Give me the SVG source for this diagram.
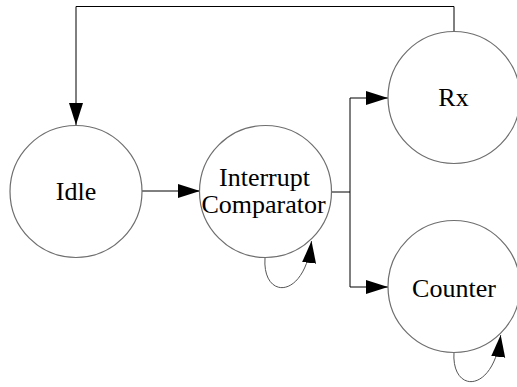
<svg xmlns="http://www.w3.org/2000/svg" width="517" height="387" viewBox="0 0 517 387">
<style>
.node{fill:#fff;stroke:#6e6e6e;stroke-width:1.2}
.lbl{font-family:"Liberation Serif","Times New Roman",serif;font-size:26px;fill:#000;text-anchor:middle}
.edge{fill:none;stroke:#000;stroke-width:1}
.loop{fill:none;stroke:#555;stroke-width:1}
</style>
<defs>
<marker id="arr" markerUnits="userSpaceOnUse" markerWidth="23" markerHeight="15" refX="22" refY="7" orient="auto">
<path d="M0,0 L22,7 L0,14 z" fill="#000"/>
</marker>
</defs>
<rect width="517" height="387" fill="#fff"/>
<g id="connectors">
<path class="edge" d="M454,32 V6.5 H76 V125" marker-end="url(#arr)"/>
<path class="edge" d="M142,191 H200" marker-end="url(#arr)"/>
<path class="edge" d="M331,192 H350"/>
<path class="edge" d="M350,287 V98 H388" marker-end="url(#arr)"/>
<path class="edge" d="M350,287 H388" marker-end="url(#arr)"/>
<path class="loop" d="M265,258 C262,300 305,300 311.5,241" marker-end="url(#arr)"/>
<path class="loop" d="M454,352 C451,394 494,394 500.7,335" marker-end="url(#arr)"/>
</g>
<g id="idle">
<circle class="node" cx="76" cy="191.5" r="66"/>
<text class="lbl" x="76" y="200">Idle</text>
</g>
<g id="interrupt-comparator">
<circle class="node" cx="265.5" cy="191.5" r="66"/>
<text class="lbl" x="264.5" y="185.5">Interrupt</text>
<text class="lbl" x="263.5" y="212.5">Comparator</text>
</g>
<g id="rx">
<circle class="node" cx="454" cy="97.5" r="66"/>
<text class="lbl" x="453.5" y="106">Rx</text>
</g>
<g id="counter">
<circle class="node" cx="454" cy="286.5" r="66"/>
<text class="lbl" x="454" y="297">Counter</text>
</g>
</svg>
